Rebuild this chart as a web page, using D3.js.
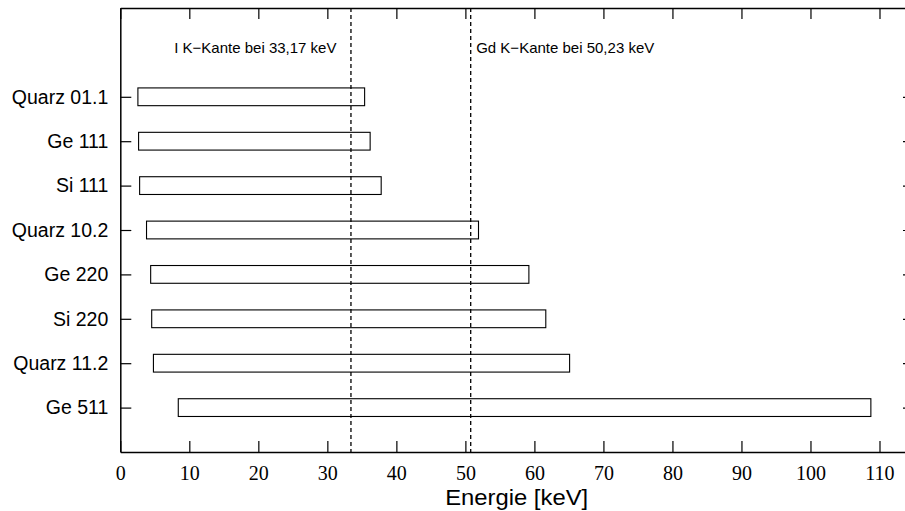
<!DOCTYPE html>
<html>
<head>
<meta charset="utf-8">
<script src="https://cdn.jsdelivr.net/npm/d3@7"></script>
<style>
  body { margin: 0; background: #fff; }
  svg { display: block; }
</style>
</head>
<body>
<figure id="bar" style="margin:0"></figure>
<script>
// crystal reflections, top to bottom
const categories = ["Quarz 01.1", "Ge 111", "Si 111", "Quarz 10.2", "Ge 220", "Si 220", "Quarz 11.2", "Ge 511"];
// energy range covered per crystal [keV]
const lowEnergy = [2.55, 2.65, 2.8, 3.8, 4.4, 4.55, 4.8, 8.4];
const highEnergy = [35.4, 36.2, 37.8, 51.9, 59.2, 61.65, 65.1, 108.75];
const xTicks = [0, 10, 20, 30, 40, 50, 60, 70, 80, 90, 100, 110];
// absorption edges (dashed lines)
const edgePositions = [33.42, 50.77];
const edgeLabels = ["I K\u2212Kante bei 33,17 keV", "Gd K\u2212Kante bei 50,23 keV"];

const width = 905, height = 511;
const margin = { top: 8, right: -9, bottom: 59, left: 120.3 };
const innerW = width - margin.left - margin.right;
const innerH = height - margin.top - margin.bottom;

const svg = d3.select("figure#bar").append("svg")
  .attr("width", width)
  .attr("height", height)
  .append("g")
  .attr("transform", "translate(" + margin.left + "," + margin.top + ")");

const x = d3.scaleLinear().domain([0, 115]).range([0, innerW]);
// two empty slots above the first crystal, one below the last
const y = d3.scaleLinear().domain([-2, categories.length]).range([0, innerH]);

const sans = "'Liberation Sans', Arial, Helvetica, sans-serif";
const serif = "'Liberation Serif', 'Times New Roman', serif";

// bars
svg.selectAll("rect.bar")
  .data(categories)
  .enter()
  .append("rect")
  .attr("class", "bar")
  .attr("x", (d, i) => x(lowEnergy[i]))
  .attr("y", (d, i) => y(i - 0.2))
  .attr("width", (d, i) => x(highEnergy[i]) - x(lowEnergy[i]))
  .attr("height", (d, i) => y(i + 0.2) - y(i - 0.2))
  .attr("fill", "#fff")
  .attr("stroke", "#000")
  .attr("stroke-width", 1.1);

// dashed edge lines
svg.selectAll("line.edge")
  .data(edgePositions)
  .enter()
  .append("line")
  .attr("class", "edge")
  .attr("x1", d => x(d))
  .attr("x2", d => x(d))
  .attr("y1", 0)
  .attr("y2", innerH)
  .attr("stroke", "#000")
  .attr("stroke-width", 1.3)
  .attr("stroke-dasharray", "4,3");

// edge labels: first one left of its line, second one right of it
svg.selectAll("text.edge-label")
  .data(edgeLabels)
  .enter()
  .append("text")
  .attr("class", "edge-label")
  .attr("x", (d, i) => i === 0 ? x(edgePositions[i]) - 14.5 : x(edgePositions[i]) + 5.5)
  .attr("y", 45.3)
  .attr("text-anchor", (d, i) => i === 0 ? "end" : "start")
  .style("font-family", sans)
  .style("font-size", "15px")
  .text(d => d);

// bottom axis with labels, ticks pointing inward
const bottom = svg.append("g")
  .attr("transform", "translate(0," + innerH + ")")
  .call(d3.axisBottom(x).tickValues(xTicks).tickSizeInner(-11).tickSizeOuter(0).tickPadding(13.5));
bottom.selectAll("text").style("font-family", serif).style("font-size", "20px").attr("fill", "#000");

// top axis, ticks only
svg.append("g")
  .call(d3.axisTop(x).tickValues(xTicks).tickSizeInner(-11).tickSizeOuter(0).tickFormat(""));

// left axis with crystal names
const left = svg.append("g")
  .call(d3.axisLeft(y).tickValues(d3.range(categories.length))
    .tickFormat(i => categories[i]).tickSizeInner(-11).tickSizeOuter(0).tickPadding(12));
left.selectAll("text").style("font-family", sans).style("font-size", "19.5px").attr("fill", "#000");

// right axis, ticks only
svg.append("g")
  .attr("transform", "translate(" + innerW + ",0)")
  .call(d3.axisRight(y).tickValues(d3.range(categories.length))
    .tickSizeInner(-11).tickSizeOuter(0).tickFormat(""));

svg.selectAll(".domain").attr("stroke", "#000").attr("stroke-width", 1.5);
svg.selectAll(".tick line").attr("stroke", "#000").attr("stroke-width", 1.2);

// x axis title
svg.append("text")
  .attr("x", x(57.5) - 0.5)
  .attr("y", innerH + 52.5)
  .attr("text-anchor", "middle")
  .attr("textLength", 143)
  .attr("lengthAdjust", "spacingAndGlyphs")
  .style("font-family", sans)
  .style("font-size", "21.5px")
  .text("Energie [keV]");
</script>
</body>
</html>
